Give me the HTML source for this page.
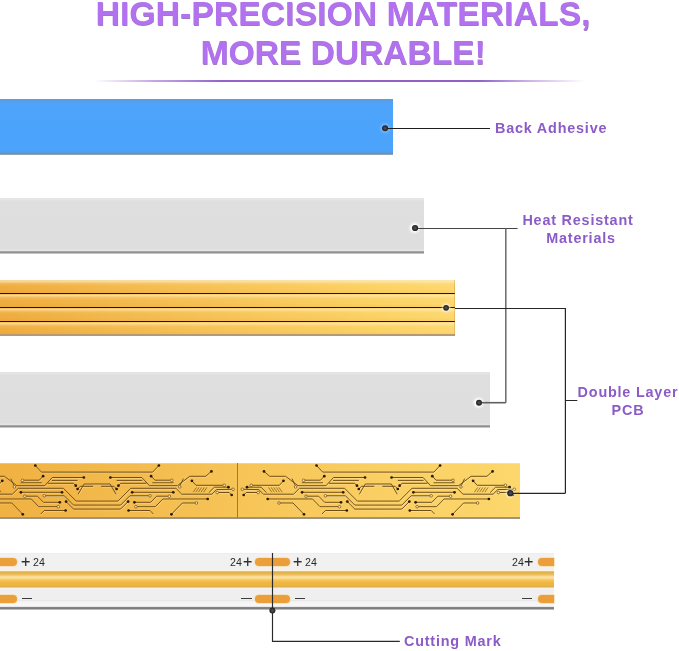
<!DOCTYPE html>
<html><head><meta charset="utf-8">
<style>
*{margin:0;padding:0;box-sizing:border-box}
html,body{width:679px;height:651px;overflow:hidden;background:#fff}
body{position:relative;font-family:"Liberation Sans",Arial,sans-serif}
.abs{position:absolute}
.title,.lbl,.num,.dig{will-change:transform}
.title{position:absolute;left:0;width:686px;text-align:center;font-weight:bold;font-size:33.7px;line-height:1;color:#b272ef;
  text-shadow:0.4px 0.5px 0.3px rgba(125,78,170,.75);white-space:nowrap}
.lbl{position:absolute;font-weight:bold;font-size:14.4px;line-height:18px;color:#8b5bc8;letter-spacing:0.8px;white-space:nowrap;text-align:center}
.bar{position:absolute;left:0}
.ln{position:absolute;background:#3a3a3a}
.dot{position:absolute;width:8px;height:8px;border-radius:50%;background:#2f2f33;box-shadow:0 0 0 1.5px rgba(255,255,255,.6)}
.pad{position:absolute;height:8px;border-radius:4px;background:#eb9f3a;box-shadow:0 0 0 0.8px rgba(250,220,170,.9)}
.num{position:absolute;top:551.5px;font-size:16px;line-height:20px;color:#2e2e2e;-webkit-text-stroke:0.15px #2e2e2e}
.dig{position:absolute;top:552px;font-size:10.6px;line-height:20px;color:#2a2a2a}
.minus{position:absolute;top:598.2px;width:10.3px;height:1.3px;background:#3c3c3c}
</style></head><body>

<div class="title" style="top:-3px;letter-spacing:0.06px">HIGH-PRECISION MATERIALS,</div>
<div class="title" style="top:35.5px;letter-spacing:-0.1px">MORE DURABLE!</div>
<div class="abs" style="left:94px;top:79.5px;width:492px;height:2.2px;background:linear-gradient(90deg,rgba(150,96,205,0) 0%,rgba(150,96,205,.55) 12%,#9462cc 26%,#9060c8 78%,rgba(150,96,205,.5) 88%,rgba(150,96,205,0) 100%)"></div>

<!-- Back adhesive -->
<div class="bar" style="top:99px;width:393px;height:56px;background:linear-gradient(180deg,#6a9cd0 0,#5b9be0 1.2px,#55a0ee 3px,#4ea4fa 4px,#4ba3fc 51px,#4aa1f8 53px,#6a92bc 54px,#7a90a8 55.3px,rgba(160,170,185,.6) 56px)"></div>
<div class="lbl" style="left:495px;top:119px">Back Adhesive</div>

<!-- Heat resistant 1 -->
<div class="bar" style="top:198px;width:424px;height:56px;background:linear-gradient(180deg,#e2e2e2 0,#e6e6e6 1.5px,#dfdfdf 3px,#dedede 51px,#e6e6e6 52px,#e4e4e4 53px,#9a9a9a 53.6px,#8e8e8e 54.6px,rgba(170,170,170,.6) 55.6px,rgba(255,255,255,0) 56px)"></div>
<div class="lbl" style="left:510px;top:211px;width:136px">Heat Resistant</div>
<div class="lbl" style="left:513px;top:229px;width:136px">Materials</div>

<!-- orange strip -->
<div class="bar" style="top:279.5px;width:455px;height:56px;background:
linear-gradient(180deg,rgba(255,255,255,.5) 0,rgba(255,255,255,0) 1.5px) 0 0/100% 100% no-repeat,
linear-gradient(180deg,rgba(255,238,195,.85) 0,rgba(255,238,195,.45) 1.8px,rgba(255,238,195,.12) 3.5px,rgba(255,238,195,0) 6px,rgba(200,110,0,0) 9px,rgba(200,110,0,.10) 13.5px) 0 0.5px/100% 14px repeat-y,
linear-gradient(90deg,#efac3e 0,#f3b94c 120px,#f8c75a 260px,#fbd264 380px,#fdd86f 455px)"></div>
<div class="ln" style="left:0;top:292.8px;width:455px;height:1.6px;background:#2a1408"></div>
<div class="ln" style="left:0;top:306.8px;width:455px;height:1.6px;background:#2a1408"></div>
<div class="ln" style="left:0;top:320.7px;width:455px;height:1.6px;background:#2a1408"></div>
<div class="bar" style="top:334px;width:455px;height:1.8px;background:linear-gradient(180deg,#b89a70,#a89a88)"></div>

<div class="bar" style="left:453.6px;top:280px;width:1.4px;height:55px;background:linear-gradient(90deg,rgba(200,150,60,.15),rgba(170,120,50,.45))"></div>

<!-- Heat resistant 2 -->
<div class="bar" style="top:372px;width:490px;height:56px;background:linear-gradient(180deg,#e2e2e2 0,#e6e6e6 1.5px,#dfdfdf 3px,#dedede 51px,#e6e6e6 52px,#e4e4e4 53px,#9a9a9a 53.6px,#8e8e8e 54.6px,rgba(170,170,170,.6) 55.6px,rgba(255,255,255,0) 56px)"></div>

<!-- PCB -->
<div class="bar" style="top:462.5px;width:520px;height:56px;background:
linear-gradient(180deg,rgba(255,255,255,.35) 0,rgba(255,255,255,0) 1.5px,rgba(0,0,0,0) 53.5px,#a89070 54px,#9c9488 56px),
linear-gradient(90deg,#f0b142 0,#f3ba4c 120px,#f7c659 260px,#fad064 400px,#fcd76c 520px)"></div>
<div class="ln" style="left:236.6px;top:463px;width:1.2px;height:54.5px;background:#a07a34"></div>
<svg class="abs" style="left:0;top:463px" width="520" height="55" viewBox="0 0 520 55">
<g transform="translate(-44.2 0)"><path d="M27 8.4 32.7 13.3 48.6 13.3 61 22.7 89 22.7 96.5 14.5 128 14.5M255.6 8.4 249.9 13.3 234 13.3 221.6 22.7 193.6 22.7 186.1 14.5 154.6 14.5M55 15.6 58.4 22.8M227.6 15.6 224.2 22.8M46.5 17.8 42.4 22.3 14.7 22.3M236.1 17.8 240.2 22.3 267.9 22.3M10 24.2 24 24.2 29.5 29.6M272.6 24.2 258.6 24.2 253.1 29.6M6.7 32 9.2 29.5 20.2 29.5M275.9 32 273.4 29.5 262.4 29.5M30.7 36 75.5 36 83 43.7 101.5 43.7M251.9 36 207.1 36 199.6 43.7 181.1 43.7M43 40 56 40 67 51.3M239.6 40 226.6 40 215.6 51.3M87.3 13.2 83.5 17.2 67.6 17.2M195.3 13.2 199.1 17.2 215 17.2M64.8 19.8 86 19.8M217.8 19.8 196.6 19.8M65.1 29.3 106.2 29.3M217.5 29.3 176.4 29.3M70 33.2 81.7 33.2 87.7 39.3 104 39.3M212.6 33.2 200.9 33.2 194.9 39.3 178.6 39.3M109.8 47.5 88.4 47.5 85 51M172.8 47.5 194.2 47.5 197.6 51M92 20.3 117.5 20.3 120 22.7M190.6 20.3 165.1 20.3 162.6 22.7M96 17.4 121.8 17.4M186.6 17.4 160.8 17.4M121.8 26 124.5 23.3 137.3 23.3M160.8 26 158.1 23.3 145.3 23.3M79.5 2.5 85.7 9.1 196.9 9.1 203.1 2.5M6.3 26.3 21.8 26.6 26.5 31.2 56.6 31.2 62.5 25.3 107.6 25.3 120.4 38.1 162.2 38.1 175 25.3 220.1 25.3 226 31.2 256.1 31.2 260.8 26.6 276.3 26.3M89.4 32.8 108.5 32.8 117.8 42.1 164.8 42.1 174.1 32.8 193.2 32.8M110.3 38.6 117.8 46.1 164.8 46.1 172.3 38.6M122.3 31.3 128.3 21 154.3 21 160.3 31.3" fill="none" stroke="#fff3c8" stroke-opacity=".55" stroke-width="0.9" transform="translate(0.6 0.7)"/><path d="M27 8.4 32.7 13.3 48.6 13.3 61 22.7 89 22.7 96.5 14.5 128 14.5M255.6 8.4 249.9 13.3 234 13.3 221.6 22.7 193.6 22.7 186.1 14.5 154.6 14.5M55 15.6 58.4 22.8M227.6 15.6 224.2 22.8M46.5 17.8 42.4 22.3 14.7 22.3M236.1 17.8 240.2 22.3 267.9 22.3M10 24.2 24 24.2 29.5 29.6M272.6 24.2 258.6 24.2 253.1 29.6M6.7 32 9.2 29.5 20.2 29.5M275.9 32 273.4 29.5 262.4 29.5M30.7 36 75.5 36 83 43.7 101.5 43.7M251.9 36 207.1 36 199.6 43.7 181.1 43.7M43 40 56 40 67 51.3M239.6 40 226.6 40 215.6 51.3M87.3 13.2 83.5 17.2 67.6 17.2M195.3 13.2 199.1 17.2 215 17.2M64.8 19.8 86 19.8M217.8 19.8 196.6 19.8M65.1 29.3 106.2 29.3M217.5 29.3 176.4 29.3M70 33.2 81.7 33.2 87.7 39.3 104 39.3M212.6 33.2 200.9 33.2 194.9 39.3 178.6 39.3M109.8 47.5 88.4 47.5 85 51M172.8 47.5 194.2 47.5 197.6 51M92 20.3 117.5 20.3 120 22.7M190.6 20.3 165.1 20.3 162.6 22.7M96 17.4 121.8 17.4M186.6 17.4 160.8 17.4M121.8 26 124.5 23.3 137.3 23.3M160.8 26 158.1 23.3 145.3 23.3M79.5 2.5 85.7 9.1 196.9 9.1 203.1 2.5M6.3 26.3 21.8 26.6 26.5 31.2 56.6 31.2 62.5 25.3 107.6 25.3 120.4 38.1 162.2 38.1 175 25.3 220.1 25.3 226 31.2 256.1 31.2 260.8 26.6 276.3 26.3M89.4 32.8 108.5 32.8 117.8 42.1 164.8 42.1 174.1 32.8 193.2 32.8M110.3 38.6 117.8 46.1 164.8 46.1 172.3 38.6M122.3 31.3 128.3 21 154.3 21 160.3 31.3" fill="none" stroke="#6a4810" stroke-width="0.95" stroke-linejoin="round"/><path d="M31.5 24.4 34.8 29.2M251.1 24.4 247.8 29.2M34.1 24.4 37.4 29.2M248.5 24.4 245.2 29.2M36.7 24.4 40 29.2M245.9 24.4 242.6 29.2M39.3 24.4 42.6 29.2M243.3 24.4 240 29.2M41.9 24.4 45.2 29.2M240.7 24.4 237.4 29.2" fill="none" stroke="#7a5618" stroke-width="0.7"/><g fill="#2a1806"><circle cx="27" cy="8.4" r="1.35"/><circle cx="128" cy="14.5" r="1.35"/><circle cx="46.5" cy="17.8" r="1.35"/><circle cx="10" cy="24.2" r="1.35"/><circle cx="6.7" cy="32" r="1.35"/><circle cx="30.7" cy="36" r="1.35"/><circle cx="67" cy="51.3" r="1.35"/><circle cx="87.3" cy="13.2" r="1.35"/><circle cx="65.1" cy="29.3" r="1.35"/><circle cx="106.2" cy="29.3" r="1.35"/><circle cx="104" cy="39.3" r="1.35"/><circle cx="109.8" cy="47.5" r="1.35"/><circle cx="120" cy="22.7" r="1.35"/><circle cx="121.8" cy="26" r="1.35"/><circle cx="79.5" cy="2.5" r="1.35"/><circle cx="110.3" cy="38.6" r="1.35"/><circle cx="255.6" cy="8.4" r="1.35"/><circle cx="154.6" cy="14.5" r="1.35"/><circle cx="236.1" cy="17.8" r="1.35"/><circle cx="272.6" cy="24.2" r="1.35"/><circle cx="275.9" cy="32" r="1.35"/><circle cx="251.9" cy="36" r="1.35"/><circle cx="215.6" cy="51.3" r="1.35"/><circle cx="195.3" cy="13.2" r="1.35"/><circle cx="217.5" cy="29.3" r="1.35"/><circle cx="176.4" cy="29.3" r="1.35"/><circle cx="178.6" cy="39.3" r="1.35"/><circle cx="172.8" cy="47.5" r="1.35"/><circle cx="162.6" cy="22.7" r="1.35"/><circle cx="160.8" cy="26" r="1.35"/><circle cx="203.1" cy="2.5" r="1.35"/><circle cx="172.3" cy="38.6" r="1.35"/></g><g fill="#fde9b4" stroke="#6a4810" stroke-width="0.7"><circle cx="58.6" cy="23.9" r="1.3"/><circle cx="5.3" cy="26.3" r="1.3"/><circle cx="21.2" cy="29.5" r="1.3"/><circle cx="102.5" cy="43.7" r="1.3"/><circle cx="42" cy="40" r="1.3"/><circle cx="66.6" cy="17.3" r="1.3"/><circle cx="69" cy="33.2" r="1.3"/><circle cx="88.4" cy="32.8" r="1.3"/><circle cx="14.2" cy="22.3" r="1.3"/><circle cx="224" cy="23.9" r="1.3"/><circle cx="277.3" cy="26.3" r="1.3"/><circle cx="261.4" cy="29.5" r="1.3"/><circle cx="180.1" cy="43.7" r="1.3"/><circle cx="240.6" cy="40" r="1.3"/><circle cx="216" cy="17.3" r="1.3"/><circle cx="213.6" cy="33.2" r="1.3"/><circle cx="194.2" cy="32.8" r="1.3"/><circle cx="268.4" cy="22.3" r="1.3"/></g></g>
<g transform="translate(237 0)"><path d="M27 8.4 32.7 13.3 48.6 13.3 61 22.7 89 22.7 96.5 14.5 128 14.5M255.6 8.4 249.9 13.3 234 13.3 221.6 22.7 193.6 22.7 186.1 14.5 154.6 14.5M55 15.6 58.4 22.8M227.6 15.6 224.2 22.8M46.5 17.8 42.4 22.3 14.7 22.3M236.1 17.8 240.2 22.3 267.9 22.3M10 24.2 24 24.2 29.5 29.6M272.6 24.2 258.6 24.2 253.1 29.6M6.7 32 9.2 29.5 20.2 29.5M275.9 32 273.4 29.5 262.4 29.5M30.7 36 75.5 36 83 43.7 101.5 43.7M251.9 36 207.1 36 199.6 43.7 181.1 43.7M43 40 56 40 67 51.3M239.6 40 226.6 40 215.6 51.3M87.3 13.2 83.5 17.2 67.6 17.2M195.3 13.2 199.1 17.2 215 17.2M64.8 19.8 86 19.8M217.8 19.8 196.6 19.8M65.1 29.3 106.2 29.3M217.5 29.3 176.4 29.3M70 33.2 81.7 33.2 87.7 39.3 104 39.3M212.6 33.2 200.9 33.2 194.9 39.3 178.6 39.3M109.8 47.5 88.4 47.5 85 51M172.8 47.5 194.2 47.5 197.6 51M92 20.3 117.5 20.3 120 22.7M190.6 20.3 165.1 20.3 162.6 22.7M96 17.4 121.8 17.4M186.6 17.4 160.8 17.4M121.8 26 124.5 23.3 137.3 23.3M160.8 26 158.1 23.3 145.3 23.3M79.5 2.5 85.7 9.1 196.9 9.1 203.1 2.5M6.3 26.3 21.8 26.6 26.5 31.2 56.6 31.2 62.5 25.3 107.6 25.3 120.4 38.1 162.2 38.1 175 25.3 220.1 25.3 226 31.2 256.1 31.2 260.8 26.6 276.3 26.3M89.4 32.8 108.5 32.8 117.8 42.1 164.8 42.1 174.1 32.8 193.2 32.8M110.3 38.6 117.8 46.1 164.8 46.1 172.3 38.6M122.3 31.3 128.3 21 154.3 21 160.3 31.3" fill="none" stroke="#fff3c8" stroke-opacity=".55" stroke-width="0.9" transform="translate(0.6 0.7)"/><path d="M27 8.4 32.7 13.3 48.6 13.3 61 22.7 89 22.7 96.5 14.5 128 14.5M255.6 8.4 249.9 13.3 234 13.3 221.6 22.7 193.6 22.7 186.1 14.5 154.6 14.5M55 15.6 58.4 22.8M227.6 15.6 224.2 22.8M46.5 17.8 42.4 22.3 14.7 22.3M236.1 17.8 240.2 22.3 267.9 22.3M10 24.2 24 24.2 29.5 29.6M272.6 24.2 258.6 24.2 253.1 29.6M6.7 32 9.2 29.5 20.2 29.5M275.9 32 273.4 29.5 262.4 29.5M30.7 36 75.5 36 83 43.7 101.5 43.7M251.9 36 207.1 36 199.6 43.7 181.1 43.7M43 40 56 40 67 51.3M239.6 40 226.6 40 215.6 51.3M87.3 13.2 83.5 17.2 67.6 17.2M195.3 13.2 199.1 17.2 215 17.2M64.8 19.8 86 19.8M217.8 19.8 196.6 19.8M65.1 29.3 106.2 29.3M217.5 29.3 176.4 29.3M70 33.2 81.7 33.2 87.7 39.3 104 39.3M212.6 33.2 200.9 33.2 194.9 39.3 178.6 39.3M109.8 47.5 88.4 47.5 85 51M172.8 47.5 194.2 47.5 197.6 51M92 20.3 117.5 20.3 120 22.7M190.6 20.3 165.1 20.3 162.6 22.7M96 17.4 121.8 17.4M186.6 17.4 160.8 17.4M121.8 26 124.5 23.3 137.3 23.3M160.8 26 158.1 23.3 145.3 23.3M79.5 2.5 85.7 9.1 196.9 9.1 203.1 2.5M6.3 26.3 21.8 26.6 26.5 31.2 56.6 31.2 62.5 25.3 107.6 25.3 120.4 38.1 162.2 38.1 175 25.3 220.1 25.3 226 31.2 256.1 31.2 260.8 26.6 276.3 26.3M89.4 32.8 108.5 32.8 117.8 42.1 164.8 42.1 174.1 32.8 193.2 32.8M110.3 38.6 117.8 46.1 164.8 46.1 172.3 38.6M122.3 31.3 128.3 21 154.3 21 160.3 31.3" fill="none" stroke="#6a4810" stroke-width="0.95" stroke-linejoin="round"/><path d="M31.5 24.4 34.8 29.2M251.1 24.4 247.8 29.2M34.1 24.4 37.4 29.2M248.5 24.4 245.2 29.2M36.7 24.4 40 29.2M245.9 24.4 242.6 29.2M39.3 24.4 42.6 29.2M243.3 24.4 240 29.2M41.9 24.4 45.2 29.2M240.7 24.4 237.4 29.2" fill="none" stroke="#7a5618" stroke-width="0.7"/><g fill="#2a1806"><circle cx="27" cy="8.4" r="1.35"/><circle cx="128" cy="14.5" r="1.35"/><circle cx="46.5" cy="17.8" r="1.35"/><circle cx="10" cy="24.2" r="1.35"/><circle cx="6.7" cy="32" r="1.35"/><circle cx="30.7" cy="36" r="1.35"/><circle cx="67" cy="51.3" r="1.35"/><circle cx="87.3" cy="13.2" r="1.35"/><circle cx="65.1" cy="29.3" r="1.35"/><circle cx="106.2" cy="29.3" r="1.35"/><circle cx="104" cy="39.3" r="1.35"/><circle cx="109.8" cy="47.5" r="1.35"/><circle cx="120" cy="22.7" r="1.35"/><circle cx="121.8" cy="26" r="1.35"/><circle cx="79.5" cy="2.5" r="1.35"/><circle cx="110.3" cy="38.6" r="1.35"/><circle cx="255.6" cy="8.4" r="1.35"/><circle cx="154.6" cy="14.5" r="1.35"/><circle cx="236.1" cy="17.8" r="1.35"/><circle cx="272.6" cy="24.2" r="1.35"/><circle cx="275.9" cy="32" r="1.35"/><circle cx="251.9" cy="36" r="1.35"/><circle cx="215.6" cy="51.3" r="1.35"/><circle cx="195.3" cy="13.2" r="1.35"/><circle cx="217.5" cy="29.3" r="1.35"/><circle cx="176.4" cy="29.3" r="1.35"/><circle cx="178.6" cy="39.3" r="1.35"/><circle cx="172.8" cy="47.5" r="1.35"/><circle cx="162.6" cy="22.7" r="1.35"/><circle cx="160.8" cy="26" r="1.35"/><circle cx="203.1" cy="2.5" r="1.35"/><circle cx="172.3" cy="38.6" r="1.35"/></g><g fill="#fde9b4" stroke="#6a4810" stroke-width="0.7"><circle cx="58.6" cy="23.9" r="1.3"/><circle cx="5.3" cy="26.3" r="1.3"/><circle cx="21.2" cy="29.5" r="1.3"/><circle cx="102.5" cy="43.7" r="1.3"/><circle cx="42" cy="40" r="1.3"/><circle cx="66.6" cy="17.3" r="1.3"/><circle cx="69" cy="33.2" r="1.3"/><circle cx="88.4" cy="32.8" r="1.3"/><circle cx="14.2" cy="22.3" r="1.3"/><circle cx="224" cy="23.9" r="1.3"/><circle cx="277.3" cy="26.3" r="1.3"/><circle cx="261.4" cy="29.5" r="1.3"/><circle cx="180.1" cy="43.7" r="1.3"/><circle cx="240.6" cy="40" r="1.3"/><circle cx="216" cy="17.3" r="1.3"/><circle cx="213.6" cy="33.2" r="1.3"/><circle cx="194.2" cy="32.8" r="1.3"/><circle cx="268.4" cy="22.3" r="1.3"/></g></g>
</svg>
<!-- LED strip -->
<div class="bar" style="top:553.3px;width:554px;height:56.5px;background:linear-gradient(180deg,#ebebeb 0,#f0f1f0 1.5px,#efefef 47px,#e5e5e5 47.9px,#f5f5f5 48.8px,#f8f8f8 53.4px,#8e8e8e 54.1px,#747474 55.3px,rgba(140,140,140,.6) 56.5px)"></div>
<div class="bar" style="top:570.2px;width:554px;height:19px;background:linear-gradient(180deg,#fbf3df 0,#fff6dc 1px,#d8aa52 1.7px,#e4b44f 3px,#edbe58 4.5px,#f8d68a 6.2px,#fde4a8 7.2px,#f8d68a 8.6px,#f3bd4a 11px,#f2b43a 13.5px,#f0b43e 15.2px,#dcb050 16.5px,#e0bf78 17.2px,#fbf1e4 18.2px,#f2f2f2 19px)"></div>
<div class="pad" style="left:-4px;top:558px;width:20.5px"></div>
<div class="pad" style="left:-4px;top:595.2px;width:20.5px"></div>
<div class="pad" style="left:255.3px;top:558px;width:34.5px"></div>
<div class="pad" style="left:255.3px;top:595.2px;width:34.5px"></div>
<div class="pad" style="left:537.5px;top:558px;width:16.5px;border-radius:4px 0 0 4px"></div>
<div class="pad" style="left:537.5px;top:595.2px;width:16.5px;border-radius:4px 0 0 4px"></div>
<div class="num" style="left:21.2px">+</div><div class="dig" style="left:32.5px">24</div>
<div class="dig" style="left:230px">24</div><div class="num" style="left:243.2px">+</div>
<div class="num" style="left:293.4px">+</div><div class="dig" style="left:304.5px">24</div>
<div class="dig" style="left:511.5px">24</div><div class="num" style="left:523.8px">+</div>
<div class="minus" style="left:22px"></div>
<div class="minus" style="left:241.3px"></div>
<div class="minus" style="left:294.5px"></div>
<div class="minus" style="left:521.8px"></div>
<div class="lbl" style="left:573px;top:383px;width:110px">Double Layer</div>
<div class="lbl" style="left:573px;top:401px;width:110px">PCB</div>
<div class="lbl" style="left:404px;top:632px">Cutting Mark</div>
<svg class="abs" style="left:0;top:0" width="679" height="651" viewBox="0 0 679 651">
<defs><filter id="halo" x="-1" y="-1" width="3" height="3"><feGaussianBlur stdDeviation="0.8"/></filter></defs>
<g fill="#fff" opacity=".95" filter="url(#halo)">
<circle cx="414.6" cy="228" r="5"/><circle cx="478.5" cy="402.7" r="5"/><circle cx="446.1" cy="307.8" r="4.2" opacity=".7"/><circle cx="510.3" cy="493.2" r="4.4" opacity=".7"/>
</g>
<circle cx="385.1" cy="128.3" r="5" fill="#8cc4ff" opacity=".6" filter="url(#halo)"/>
<g fill="none" stroke-width="1.2">
<path d="M385 128.5H490" stroke="#1e1e20"/>
<path d="M415 228.5H517.6" stroke="#444"/>
<path d="M505.8 228.5V402.7" stroke="#6a6a6a" stroke-width="1.5"/>
<path d="M479 402.7H505.8" stroke="#606060" stroke-width="1.6"/>
<path d="M455 308.5H565.4V493.3M565.4 400.5H577.3" stroke="#262626"/>
<path d="M510 493.3H565.4" stroke="#262626"/>
<path d="M272.5 553V641.3H399.8" stroke="#2a2a2a" stroke-width="1.15"/>
</g>
<radialGradient id="dg" cx="50%" cy="50%" r="50%"><stop offset="0" stop-color="#55575c"/><stop offset=".55" stop-color="#34363b"/><stop offset="1" stop-color="#1e1f22"/></radialGradient>
<g fill="url(#dg)">
<circle cx="385.1" cy="128.3" r="3"/>
<circle cx="415.1" cy="228" r="3.1"/>
<circle cx="446.1" cy="307.8" r="2.9"/>
<circle cx="479" cy="402.7" r="3"/>
<circle cx="510.3" cy="493.2" r="3.1"/>
<circle cx="272.4" cy="610.6" r="3"/>
</g>
</svg>
</body></html>
